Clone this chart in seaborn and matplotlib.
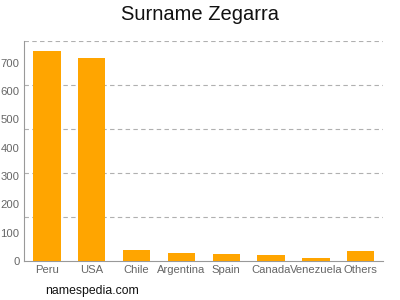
import matplotlib
matplotlib.use("Agg")
import matplotlib.pyplot as plt
import seaborn as sns
import numpy as np
import pandas as pd

countries = ["Peru", "USA", "Chile", "Argentina", "Spain", "Canada", "Venezuela", "Others"]
counts = [740, 716, 39, 27, 25, 22, 11, 34]
yticks = [0, 100, 200, 300, 400, 500, 600, 700]

df = pd.DataFrame({"country": countries, "count": counts})

sns.set_style("white")
plt.rcParams['font.family'] = ['Liberation Sans', 'DejaVu Sans']

fig = plt.figure(figsize=(4, 3), dpi=100)
ax = fig.add_axes([0.061, 0.13, 0.897, 0.734])
sns.barplot(data=df, x="country", y="count", color="#FFA500", saturation=1,
            width=0.61, ax=ax, zorder=3, linewidth=0)

ymax = 777
ax.set_ylim(0, ymax)
ax.set_xlim(-0.5, len(countries) - 0.5)
for g in np.linspace(0, ymax, 6)[1:]:
    ax.axhline(g, color="#b0b0b0", linestyle=(0, (4, 3)), linewidth=0.8, zorder=1)

ax.set_yticks(yticks)
ax.set_xlabel("")
ax.set_ylabel("")
ax.tick_params(axis="y", labelsize=8.1, colors="#666666", length=2.5, width=0.6, pad=1)
ax.tick_params(axis="x", labelsize=8.1, colors="#666666", length=0, pad=3)
for s in ["top", "right"]:
    ax.spines[s].set_visible(False)
for s in ["left", "bottom"]:
    ax.spines[s].set_color("#999999")
    ax.spines[s].set_linewidth(0.8)

fig.text(0.5, 0.95, "Surname Zegarra", ha="center", va="center", fontsize=14.5, color="#111111")
fig.text(0.112, 0.03, "namespedia.com", ha="left", va="center", fontsize=8.8, color="#111111")

fig.savefig("out.png", dpi=100)
